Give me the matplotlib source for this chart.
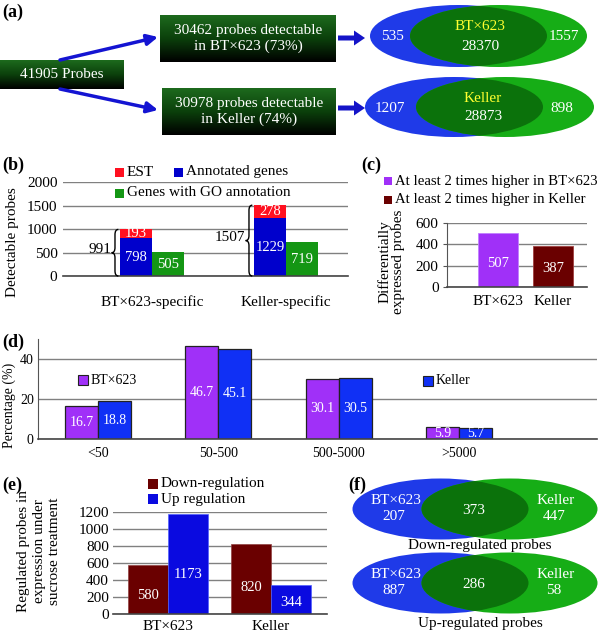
import matplotlib
matplotlib.use('Agg')
import matplotlib.pyplot as plt
import numpy as np
from matplotlib.patches import Ellipse, Rectangle, FancyArrow, PathPatch
from matplotlib.path import Path
from matplotlib.colors import LinearSegmentedColormap

plt.rcParams['font.family'] = ['Liberation Serif', 'DejaVu Serif']
plt.rcParams['font.size'] = 11

W, H = 600, 633

# (a) probe counts
total_probes = 41905
lines_a = ['BT×623', 'Keller']
detectable = [30462, 30978]
detectable_pct = [73, 74]
only_left = [535, 1207]
common = [28370, 28873]
only_right = [1557, 898]

# (b) line-specific detectable probes
b_groups = ['BT×623-specific', 'Keller-specific']
b_annot = [798, 1229]
b_est = [193, 278]
b_go = [505, 719]
b_total = [991, 1507]

# (c) differentially expressed
c_groups = ['BT×623', 'Keller']
c_values = [507, 387]
c_legend = ['At least 2 times higher in BT×623', 'At least 2 times higher in Keller']

# (d) expression level bins
d_bins = ['<50', '50-500', '500-5000', '>5000']
d_bt = [16.7, 46.7, 30.1, 5.9]
d_keller = [18.8, 45.1, 30.5, 5.7]

# (e) sucrose regulated
e_groups = ['BT×623', 'Keller']
e_down = [580, 820]
e_up = [1173, 344]

# (f) venn counts: BT only, common, Keller only
f_down = [207, 373, 447]
f_up = [887, 286, 58]

BLUE_V = '#1f3ae8'
GREEN_V = '#16ad16'
DARK_V = '#0b720b'
RED = '#ff1020'
BLUE_B = '#0000cc'
GREEN_B = '#149614'
PURPLE = '#a030f8'
MAROON = '#6a0000'
BLUE_D = '#1030f5'
BLUE_E = '#0a0ae0'

fig = plt.figure(figsize=(W / 100, H / 100), dpi=100)


def px_axes(l, t, r, b):
    return fig.add_axes([l / W, 1 - b / H, (r - l) / W, (b - t) / H])


ov = fig.add_axes([0, 0, 1, 1])
ov.set_zorder(10)
ov.axis('off')

# ---------------- (a) ----------------
grad = np.linspace(0, 1, 64).reshape(-1, 1)
box_cmap = LinearSegmentedColormap.from_list('box', ['#1d6a1d', '#0b400b', '#000000'])


def grad_box(l, t, r, b, txt):
    ov.imshow(grad, extent=(l, r, b, t), cmap=box_cmap, aspect='auto', zorder=1)
    ov.text((l + r) / 2, (t + b) / 2, txt, color='white', fontsize=11,
            ha='center', va='center', linespacing=1.25, zorder=2)


grad_box(0, 60, 124, 89, f'{total_probes} Probes')
grad_box(160, 15, 336, 62, f'{detectable[0]} probes detectable\nin {lines_a[0]} ({detectable_pct[0]}%)')
grad_box(162, 88, 336, 135, f'{detectable[1]} probes detectable\nin {lines_a[1]} ({detectable_pct[1]}%)')

for y_end, y_start in [(37, 60), (110, 89)]:
    ov.annotate('', xy=(158, y_end), xytext=(60, y_start),
                arrowprops=dict(arrowstyle='-|>', color='#1414d2', lw=2.5,
                                mutation_scale=16, shrinkA=0, shrinkB=0))
for yy in [38, 108]:
    ov.add_patch(FancyArrow(338, yy, 27, 0, width=5, head_width=15, head_length=11,
                            length_includes_head=True, color='#1414c8', lw=0))


def venn(cx, cy, w, h, sep):
    blue = Ellipse((cx - sep / 2, cy), w, h, color=BLUE_V, lw=0, zorder=2)
    green = Ellipse((cx + sep / 2, cy), w, h, color=GREEN_V, lw=0, zorder=2)
    inter = Ellipse((cx + sep / 2, cy), w, h, color=DARK_V, lw=0, zorder=3)
    ov.add_patch(blue)
    ov.add_patch(green)
    ov.add_patch(inter)
    inter.set_clip_path(blue)


def vtext(x, y, s, color='white'):
    ov.text(x, y, s, color=color, ha='center', va='center', fontsize=11, zorder=5)


venn(478.5, 36, 177, 62, 40)
vtext(392, 37, str(only_left[0]))
vtext(480, 26, lines_a[0], '#ffff30')
vtext(480, 47, str(common[0]))
vtext(564, 37, str(only_right[0]))

venn(479.5, 107, 178, 60, 51)
vtext(390, 108, str(only_left[1]))
vtext(483, 99, lines_a[1], '#ffff30')
vtext(483, 117, str(common[1]))
vtext(562, 108, str(only_right[1]))

# panel letters
for lab, xx, yy in [('(a)', 2, 12), ('(b)', 2, 165), ('(c)', 361, 165),
                    ('(d)', 2, 342), ('(e)', 2, 485), ('(f)', 348, 485)]:
    ov.text(xx, yy, lab, fontsize=13, fontweight='bold', ha='left', va='center')


def legend_item(x, y, color, label, size=9, fs=11, edge='none'):
    ov.add_patch(Rectangle((x, y - size / 2), size, size, facecolor=color,
                           edgecolor=edge, lw=0.8, zorder=5))
    ov.text(x + size + 3, y, label, ha='left', va='center', fontsize=fs, zorder=5)


def style_axes(ax, left_spine=False):
    for s in ax.spines.values():
        s.set_visible(False)
    if left_spine:
        ax.spines['left'].set_visible(True)
        ax.spines['left'].set_color('#555555')
    ax.grid(axis='y', color='#808080', lw=1, zorder=0)
    ax.set_axisbelow(True)
    ax.axhline(0, color='#444444', lw=1.2, zorder=4, clip_on=False)


def brace(ax, x, y0, y1, w, r):
    ym = (y0 + y1) / 2
    verts = [(x, y1), (x - w / 2, y1), (x - w / 2, y1 - r),
             (x - w / 2, ym + r), (x - w / 2, ym), (x - w, ym),
             (x - w / 2, ym), (x - w / 2, ym - r),
             (x - w / 2, y0 + r), (x - w / 2, y0), (x, y0)]
    codes = [Path.MOVETO, Path.CURVE3, Path.CURVE3, Path.LINETO, Path.CURVE3, Path.CURVE3,
             Path.CURVE3, Path.CURVE3, Path.LINETO, Path.CURVE3, Path.CURVE3]
    ax.add_patch(PathPatch(Path(verts, codes), fill=False, lw=1, color='black', zorder=5, clip_on=False))


# ---------------- (b) ----------------
axb = px_axes(63, 182, 348, 276)
xb = np.arange(len(b_groups))
bw = 0.239
axb.bar(xb - bw / 2, b_annot, bw, color=BLUE_B, zorder=3)
axb.bar(xb - bw / 2, b_est, bw, bottom=b_annot, color=RED, zorder=3)
axb.bar(xb + bw / 2, b_go, bw, color=GREEN_B, zorder=3)
axb.set_xlim(-0.664, 1.463)
axb.set_ylim(0, 2000)
axb.set_yticks(range(0, 2001, 500))
axb.set_xticks(xb, b_groups)
style_axes(axb)
axb.tick_params(length=0, labelsize=11)
axb.tick_params(axis='x', pad=14)
axb.tick_params(axis='y', pad=4)
for i in range(len(b_groups)):
    axb.text(xb[i] - bw / 2, b_annot[i] / 2, str(b_annot[i]), color='white', ha='center', va='center', fontsize=10.5, zorder=5)
    axb.text(xb[i] - bw / 2, b_annot[i] + b_est[i] / 2, str(b_est[i]), color='white', ha='center', va='center', fontsize=10.5, zorder=5)
    axb.text(xb[i] + bw / 2, b_go[i] / 2, str(b_go[i]), color='white', ha='center', va='center', fontsize=10.5, zorder=5)
    bx = xb[i] - bw - 0.012
    brace(axb, bx, 0, b_total[i], 0.05, 110)
    axb.text(bx - 0.05, b_total[i] / 2 + 70, str(b_total[i]), ha='right', va='center', fontsize=11, zorder=5)
ov.text(13, 242, 'Detectable probes', rotation=90, ha='center', va='center', fontsize=11)
legend_item(115, 172, RED, 'EST')
legend_item(174, 172, BLUE_B, 'Annotated genes')
legend_item(115, 193, GREEN_B, 'Genes with GO annotation')

# ---------------- (c) ----------------
axc = px_axes(447, 223, 587, 287)
xc = np.arange(len(c_groups))
cw = 40 / 55
axc.bar(xc, c_values, cw, color=[PURPLE, MAROON], edgecolor=['#c080ff', '#a04040'], lw=0.6, zorder=3)
axc.set_xlim(-0.93, 1.62)
axc.set_ylim(0, 600)
axc.set_yticks(range(0, 601, 200))
axc.set_xticks(xc, c_groups)
style_axes(axc, left_spine=True)
axc.tick_params(axis='y', length=3, direction='out', color='#555555', labelsize=11, pad=3)
axc.tick_params(axis='x', length=0, labelsize=11, pad=6)
for i, v in enumerate(c_values):
    axc.text(xc[i], v * 0.44, str(v), color='white', ha='center', va='center', fontsize=10.5, zorder=5)
ov.text(391, 262, 'Differentially\nexpressed probes', rotation=90, ha='center', va='center',
        fontsize=11, linespacing=1.05)
legend_item(384, 181, PURPLE, c_legend[0], size=8, fs=10.6)
legend_item(384, 200, MAROON, c_legend[1], size=8, fs=10.6)

# ---------------- (d) ----------------
axd = px_axes(38, 339, 597, 439)
xd = np.arange(len(d_bins))
dw = 33 / 120.3
axd.bar(xd - dw / 2, d_bt, dw, color=PURPLE, edgecolor='#222222', lw=0.9, zorder=3)
axd.bar(xd + dw / 2, d_keller, dw, color=BLUE_D, edgecolor='#222222', lw=0.9, zorder=3)
axd.set_xlim(-0.5, 4.15)
axd.set_ylim(0, 50)
axd.set_yticks([0, 20, 40])
axd.set_xticks(xd, d_bins)
style_axes(axd, left_spine=True)
axd.tick_params(length=0, labelsize=10)
axd.tick_params(axis='x', pad=6)
axd.tick_params(axis='y', pad=3)
for i in range(len(d_bins)):
    axd.text(xd[i] - dw / 2, d_bt[i] / 2, f'{d_bt[i]:.1f}', color='white', ha='center', va='center', fontsize=10, zorder=5)
    axd.text(xd[i] + dw / 2, d_keller[i] / 2, f'{d_keller[i]:.1f}', color='white', ha='center', va='center', fontsize=10, zorder=5)
ov.text(9, 405, 'Percentage (%)', rotation=90, ha='center', va='center', fontsize=10)
legend_item(78, 380, PURPLE, 'BT×623', size=10, fs=10, edge='#222222')
legend_item(423, 381, BLUE_D, 'Keller', size=10, fs=10, edge='#222222')

# ---------------- (e) ----------------
axe = px_axes(113, 512, 327, 614)
xe = np.arange(len(e_groups))
ew = 40 / 103
axe.bar(xe - ew / 2, e_down, ew, color=MAROON, edgecolor='#904040', lw=0.5, zorder=3)
axe.bar(xe + ew / 2, e_up, ew, color=BLUE_E, edgecolor='#5060ff', lw=0.5, zorder=3)
axe.set_xlim(-0.534, 1.544)
axe.set_ylim(0, 1200)
axe.set_yticks(range(0, 1201, 200))
axe.set_xticks(xe, e_groups)
style_axes(axe)
axe.tick_params(length=0, labelsize=11)
axe.tick_params(axis='x', pad=4)
axe.tick_params(axis='y', pad=3)
for i in range(len(e_groups)):
    axe.text(xe[i] - ew / 2, e_down[i] * 0.38, str(e_down[i]), color='white', ha='center', va='center', fontsize=10.5, zorder=5)
    axe.text(xe[i] + ew / 2, e_up[i] * 0.4, str(e_up[i]), color='white', ha='center', va='center', fontsize=10.5, zorder=5)
ov.text(39, 551, 'Regulated probes in\nexpression under\nsucrose treatment', rotation=90,
        ha='center', va='center', fontsize=11, linespacing=1.2)
legend_item(148, 484, MAROON, 'Down-regulation', size=10)
legend_item(148, 499, BLUE_E, 'Up regulation', size=10)

# ---------------- (f) ----------------
for cy, counts, title, ty in [(509, f_down, 'Down-regulated probes', 546),
                              (583, f_up, 'Up-regulated probes', 623)]:
    venn(475, cy, 176, 61, 69)
    vtext(396, cy - 8, 'BT×623')
    vtext(394, cy + 7, str(counts[0]))
    vtext(474, cy + 2, str(counts[1]))
    vtext(556, cy - 8, 'Keller')
    vtext(554, cy + 7, str(counts[2]))
    ov.text(480, ty, title, ha='center', va='center', fontsize=11)

ov.set_xlim(0, W)
ov.set_ylim(H, 0)

fig.savefig('out.png', dpi=100)
